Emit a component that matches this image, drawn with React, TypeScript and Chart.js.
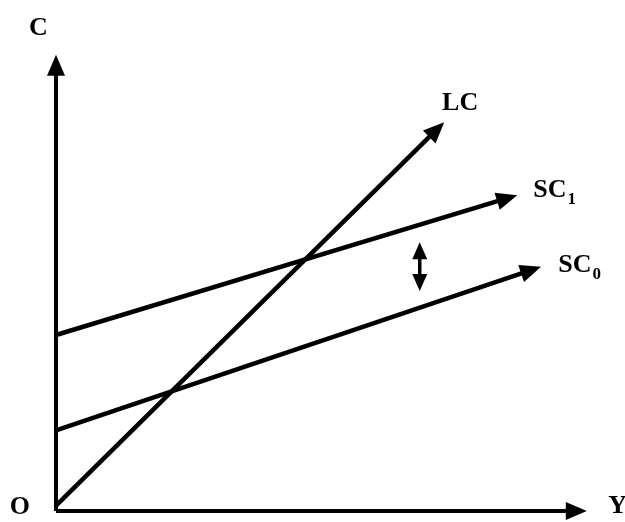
import React, { useEffect, useRef } from "react";
import { Chart, registerables } from "chart.js";

Chart.register(...registerables);

// Abstract units: Y (income) on x-axis, C (consumption) on y-axis
const axisY = [{ x: 0, y: 0 }, { x: 0, y: 9.74 }];
const axisX = [{ x: 0, y: 0 }, { x: 9.77, y: 0 }];
const lcLine = [{ x: 0, y: 0.12 }, { x: 7.15, y: 8.34 }];
const sc1Line = [{ x: 0, y: 3.86 }, { x: 8.47, y: 6.85 }];
const sc0Line = [{ x: 0, y: 1.77 }, { x: 8.92, y: 5.27 }];
const shiftArrow = [{ x: 6.85, y: 5.72 }, { x: 6.85, y: 5.0 }];

const labelTexts = ["C", "O", "Y", "LC", "SC", "SC"];
const labelSubs = ["", "", "", "", "1", "0"];
const labelX = [-0.51, -0.87, 10.4, 7.27, 8.99, 9.46];
const labelY = [10.44, -0.07, -0.04, 8.79, 6.89, 5.24];

const arrowPlugin = {
  id: "arrowsAndLabels",
  afterDatasetsDraw(chart: any) {
    const ctx = chart.ctx;
    const xs = chart.scales.x;
    const ys = chart.scales.y;
    const head = (px: number, py: number, dx: number, dy: number, len: number, hw: number, ext: number) => {
      const L = Math.hypot(dx, dy);
      const ux = dx / L, uy = dy / L;
      const tx = px + ux * ext, ty = py + uy * ext;
      const bx = tx - ux * len, by = ty - uy * len;
      ctx.beginPath();
      ctx.moveTo(tx, ty);
      ctx.lineTo(bx - uy * hw, by + ux * hw);
      ctx.lineTo(bx + uy * hw, by - ux * hw);
      ctx.closePath();
      ctx.fill();
    };
    ctx.save();
    ctx.fillStyle = "#000";
    chart.data.datasets.forEach((ds: any) => {
      const d = ds.data;
      const n = d.length;
      const p1 = { x: xs.getPixelForValue(d[n - 2].x), y: ys.getPixelForValue(d[n - 2].y) };
      const p2 = { x: xs.getPixelForValue(d[n - 1].x), y: ys.getPixelForValue(d[n - 1].y) };
      if (ds.arrowBoth) {
        head(p1.x, p1.y, p1.x - p2.x, p1.y - p2.y, 17, 7.5, 8);
        head(p2.x, p2.y, p2.x - p1.x, p2.y - p1.y, 17, 7.5, 8);
      } else {
        head(p2.x, p2.y, p2.x - p1.x, p2.y - p1.y, 21, 9, 12);
      }
    });
    ctx.textAlign = "left";
    ctx.textBaseline = "alphabetic";
    labelTexts.forEach((t, i) => {
      const px = xs.getPixelForValue(labelX[i]);
      const py = ys.getPixelForValue(labelY[i]);
      ctx.font = "bold 26px 'Liberation Serif', 'DejaVu Serif', serif";
      ctx.fillText(t, px, py);
      if (labelSubs[i]) {
        const w = ctx.measureText(t).width;
        ctx.font = "bold 17px 'Liberation Serif', 'DejaVu Serif', serif";
        ctx.fillText(labelSubs[i], px + w + 1, py + 7);
      }
    });
    ctx.restore();
  },
};

export default function App() {
  const ref = useRef<HTMLCanvasElement>(null);
  useEffect(() => {
    if (!ref.current) return;
    const mk = (data: any[], width: number, extra: any = {}) => ({
      data,
      showLine: true,
      borderColor: "#000",
      backgroundColor: "#000",
      borderWidth: width,
      pointRadius: 0,
      pointHoverRadius: 0,
      clip: false,
      fill: false,
      ...extra,
    });
    const chart = new Chart(ref.current, {
      type: "scatter",
      data: {
        datasets: [
          mk(axisY, 4),
          mk(axisX, 4),
          mk(lcLine, 4.5),
          mk(sc1Line, 4.5),
          mk(sc0Line, 4.5),
          mk(shiftArrow, 3.5, { arrowBoth: true }),
        ] as any,
      },
      options: {
        animation: false,
        responsive: false,
        layout: { padding: { left: 56, right: 38, top: 55, bottom: 11 } },
        scales: {
          x: { type: "linear", min: 0, max: 10, display: false },
          y: { type: "linear", min: 0, max: 10, display: false },
        },
        plugins: { legend: { display: false }, tooltip: { enabled: false } },
        events: [],
      },
      plugins: [arrowPlugin],
    });
    return () => chart.destroy();
  }, []);
  return (
    <div style={{ position: "fixed", left: 0, top: 0, width: 625, height: 522, background: "#fff" }}>
      <canvas ref={ref} width={625} height={522} style={{ display: "block" }} />
    </div>
  );
}
